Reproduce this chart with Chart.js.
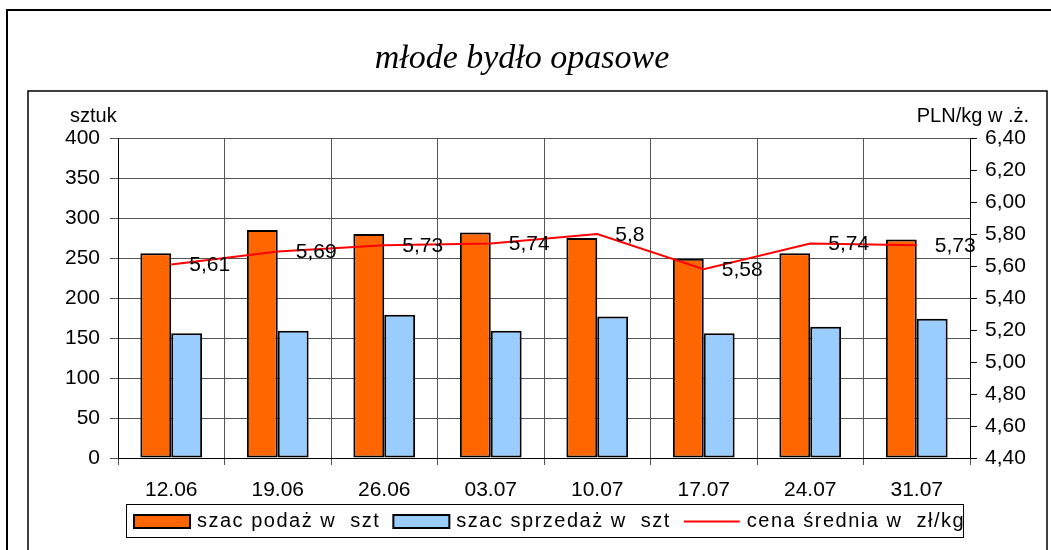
<!DOCTYPE html>
<html>
<head>
<meta charset="utf-8">
<script src="https://cdn.jsdelivr.net/npm/chart.js@4"></script>
<style>
html,body{margin:0;padding:0;background:#fff;}
canvas{display:block;}
</style>
</head>
<body>
<canvas id="c" width="1051" height="550"></canvas>
<script>
const categories = ['12.06','19.06','26.06','03.07','10.07','17.07','24.07','31.07'];
const supply = [256, 285, 280, 282, 275, 249, 256, 273];
const sales = [156, 159, 179, 159, 177, 156, 164, 174];
const price = [5.61, 5.69, 5.73, 5.74, 5.8, 5.58, 5.74, 5.73];
const seriesNames = ['szac podaż w  szt', 'szac sprzedaż w  szt', 'cena średnia w  zł/kg'];
const titleText = 'młode bydło opasowe';
const leftAxisTitle = 'sztuk';
const rightAxisTitle = 'PLN/kg w .ż.';

const FONT = '"Liberation Sans", Arial, sans-serif';
const ORANGE = '#FF6600', BLUE = '#99CCFF', RED = '#FF0000';

const decorPlugin = {
  id: 'decor',
  beforeDraw(chart) {
    const ctx = chart.ctx;
    ctx.save();
    ctx.fillStyle = '#fff';
    ctx.fillRect(0, 0, chart.width, chart.height);
    ctx.strokeStyle = '#000';
    ctx.lineWidth = 2;
    ctx.strokeRect(7, 10, 1060, 600);
    ctx.lineWidth = 1.5;
    ctx.strokeRect(28, 91, 1019, 600);
    ctx.fillStyle = '#000';
    ctx.font = 'italic 34px "Liberation Serif", "Times New Roman", serif';
    ctx.textAlign = 'center';
    ctx.textBaseline = 'middle';
    ctx.fillText(titleText, 522, 59);
    const ca = chart.chartArea;
    ctx.font = '20px ' + FONT;
    ctx.textBaseline = 'alphabetic';
    ctx.textAlign = 'left';
    ctx.fillText(leftAxisTitle, ca.left - 48, 122);
    ctx.textAlign = 'right';
    ctx.fillText(rightAxisTitle, ca.right + 59, 122);
    ctx.restore();
  },
  afterDraw(chart) {
    const ctx = chart.ctx;
    ctx.save();
    const meta = chart.getDatasetMeta(2);
    ctx.font = '21px ' + FONT;
    ctx.fillStyle = '#000';
    ctx.textAlign = 'left';
    ctx.textBaseline = 'middle';
    meta.data.forEach((pt, i) => {
      ctx.fillText(String(price[i]).replace('.', ','), pt.x + 18, pt.y + 1);
    });
    const bx = 126, by = 504, bw = 837, bh = 33;
    ctx.fillStyle = '#fff';
    ctx.fillRect(bx, by, bw, bh);
    ctx.strokeStyle = '#000';
    ctx.lineWidth = 1;
    ctx.strokeRect(bx + 0.5, by + 0.5, bw, bh);
    ctx.font = '20px ' + FONT;
    ctx.letterSpacing = '1.5px';
    ctx.textBaseline = 'middle';
    const colors = [ORANGE, BLUE, null];
    let x = bx + 8;
    const cy = by + bh / 2 + 1;
    seriesNames.forEach((name, i) => {
      if (colors[i]) {
        ctx.fillStyle = colors[i];
        ctx.fillRect(x, cy - 6.5, 56, 13);
        ctx.lineWidth = 2;
        ctx.strokeStyle = '#000';
        ctx.strokeRect(x, cy - 6.5, 56, 13);
      } else {
        ctx.strokeStyle = RED;
        ctx.lineWidth = 2;
        ctx.beginPath();
        ctx.moveTo(x, cy);
        ctx.lineTo(x + 56, cy);
        ctx.stroke();
      }
      x += 56 + 7;
      ctx.fillStyle = '#000';
      ctx.fillText(name, x, cy);
      x += ctx.measureText(name).width + 13;
    });
    ctx.restore();
  }
};

new Chart(document.getElementById('c'), {
  data: {
    labels: categories,
    datasets: [
      { type: 'bar', label: seriesNames[0], data: supply, backgroundColor: ORANGE, borderColor: '#000', borderWidth: 2, borderSkipped: false, yAxisID: 'y', order: 1, categoryPercentage: 0.58, barPercentage: 1.0 },
      { type: 'bar', label: seriesNames[1], data: sales, backgroundColor: BLUE, borderColor: '#000', borderWidth: 2, borderSkipped: false, yAxisID: 'y', order: 1, categoryPercentage: 0.58, barPercentage: 1.0 },
      { type: 'line', label: seriesNames[2], data: price, borderColor: RED, borderWidth: 2, pointRadius: 0, tension: 0, fill: false, yAxisID: 'y1', order: 0 }
    ]
  },
  options: {
    responsive: false,
    animation: false,
    devicePixelRatio: 1,
    layout: { padding: { left: 0, right: 0, top: 138, bottom: 0 } },
    plugins: { legend: { display: false }, title: { display: false }, tooltip: { enabled: false } },
    scales: {
      x: {
        type: 'category',
        offset: true,
        grid: { offset: true, color: '#555', lineWidth: 1, tickLength: 7 },
        border: { color: '#000', width: 1 },
        ticks: { font: { family: FONT, size: 21 }, color: '#000', padding: 13, maxRotation: 0 },
        afterFit(s) { s.height = 92; }
      },
      y: {
        position: 'left',
        min: 0, max: 400,
        ticks: { stepSize: 50, font: { family: FONT, size: 21 }, color: '#000', padding: 10 },
        grid: { color: '#555', lineWidth: 1, tickLength: 8 },
        border: { color: '#000', width: 1 },
        afterFit(s) { s.width = 118; }
      },
      y1: {
        position: 'right',
        min: 4.4, max: 6.4,
        ticks: { stepSize: 0.2, font: { family: FONT, size: 21 }, color: '#000', padding: 8,
          callback: v => Number(v).toFixed(2).replace('.', ',') },
        grid: { drawOnChartArea: false, color: '#000', tickLength: 7 },
        border: { color: '#000', width: 1 },
        afterFit(s) { s.width = 81; }
      }
    }
  },
  plugins: [decorPlugin]
});
</script>
</body>
</html>
